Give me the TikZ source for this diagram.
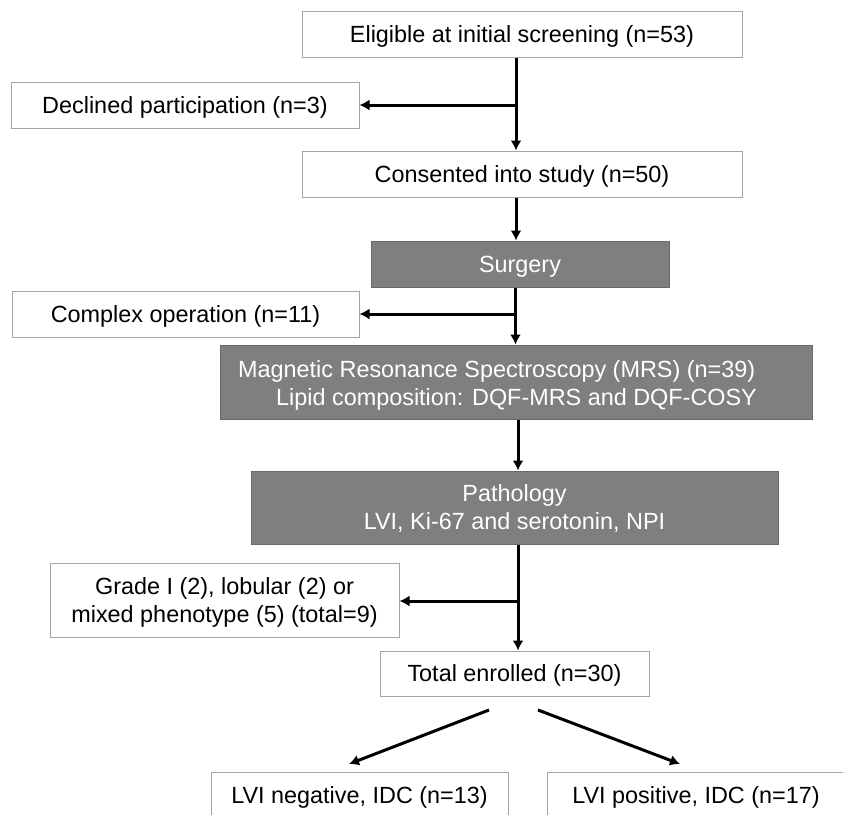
\documentclass[tikz,border=0pt]{standalone}
\usepackage{fontspec}
\setmainfont{Liberation Sans}
\usetikzlibrary{arrows.meta}
\definecolor{boxgray}{RGB}{165,165,165}
\definecolor{fillgray}{RGB}{127,127,127}
\definecolor{gborder}{RGB}{105,105,105}
\begin{document}
\begin{tikzpicture}[x=1pt,y=-1pt,
  txt/.style={font=\fontsize{23.4}{28}\selectfont, text depth=0pt},
  wbox/.style={txt, draw=boxgray, line width=1pt, fill=white, inner sep=0pt, align=center},
  gbox/.style={txt, draw=gborder, line width=1pt, fill=fillgray, text=white, inner sep=0pt, align=center},
  arr/.style={line width=3pt, -{Latex[length=10pt,width=11pt]}},
]
\useasboundingbox (0,0) rectangle (843,814);
\clip (0,0) rectangle (843,814);
\fill[white] (0,0) rectangle (843,814);

% boxes
\node[wbox, minimum width=440pt, minimum height=46pt] (elig) at (522,34) {Eligible at initial screening (n=53)};
\node[wbox, minimum width=348pt, minimum height=46pt] (decl) at (185,105) {Declined participation (n=3)};
\node[wbox, minimum width=440pt, minimum height=46pt] (cons) at (522,174) {Consented into study (n=50)};
\node[gbox, minimum width=298pt, minimum height=46pt] (surg) at (520,264) {Surgery};
\node[wbox, minimum width=347pt, minimum height=46pt] (cplx) at (185.5,314) {Complex operation (n=11)};
\node[gbox, minimum width=592pt, minimum height=74pt] (mrs) at (516,382) {};
\node[txt, text=white, align=left, anchor=west, inner sep=0pt] (mrstxt) at (238,383)
  {Magnetic Resonance Spectroscopy (MRS) (n=39)\\\hspace*{38pt}Lipid composition: DQF-MRS and DQF-COSY};
\node[gbox, minimum width=527pt, minimum height=73pt] (path) at (514.5,507.5) {Pathology\\LVI, Ki-67 and serotonin, NPI};
\node[wbox, minimum width=349pt, minimum height=74pt] (grade) at (224.5,600) {Grade I (2), lobular (2) or\\mixed phenotype (5) (total=9)};
\node[wbox, minimum width=269pt, minimum height=45pt] (total) at (514.5,673.5) {Total enrolled (n=30)};
\node[wbox, minimum width=297pt, minimum height=46pt] (neg) at (359.5,795) {LVI negative, IDC (n=13)};
\node[wbox, minimum width=298pt, minimum height=46pt] (pos) at (696,795) {LVI positive, IDC (n=17)};

% junction coordinates
\coordinate (m1) at (516,0);
\coordinate (m2) at (515.5,0);
\coordinate (m3) at (518,0);
\coordinate (j1) at (516,105);
\coordinate (j2) at (515.5,314);
\coordinate (j3) at (518,601);
\coordinate (dl0) at (489,710);
\coordinate (dl1) at (349,764);
\coordinate (dr0) at (538,710);
\coordinate (dr1) at (680,764);

% connectors
\draw[arr] (elig.south -| m1) -- (cons.north -| m1);
\draw[arr] (j1) -- (decl.east |- j1);
\draw[arr] (cons.south -| m1) -- (surg.north -| m1);
\draw[arr] (surg.south -| m2) -- (mrs.north -| m2);
\draw[arr] (j2) -- (cplx.east |- j2);
\draw[arr] (mrs.south -| m3) -- (path.north -| m3);
\draw[arr] (path.south -| m3) -- (total.north -| m3);
\draw[arr] (j3) -- (grade.east |- j3);
\draw[arr] (dl0) -- (dl1);
\draw[arr] (dr0) -- (dr1);
\end{tikzpicture}
\end{document}
